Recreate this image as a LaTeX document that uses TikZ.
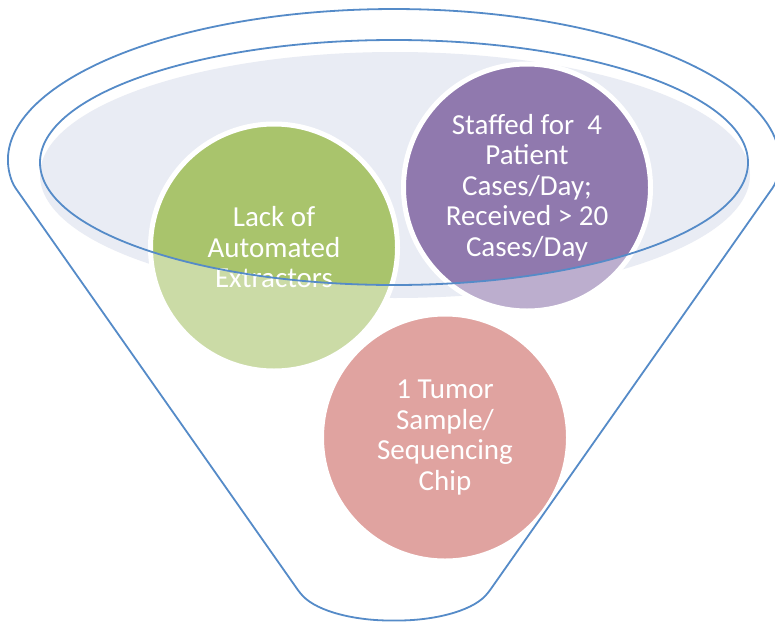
\documentclass[tikz,border=0pt]{standalone}
\usepackage{fontspec}
\setmainfont{Carlito}
\definecolor{rimblue}{HTML}{558BC8}
\definecolor{bowlfill}{HTML}{E9ECF4}
\definecolor{greenc}{HTML}{A9C46C}
\definecolor{purplec}{HTML}{9079AE}
\definecolor{pinkc}{HTML}{E0A3A0}
\tikzset{
  ball/.style={circle, draw=white, line width=5pt, minimum size=247pt, inner sep=0pt,
    text=white, align=center, font=\fontsize{29}{30.5}\selectfont},
  rim/.style={draw=rimblue, line width=1.8pt},
  glass/.style={white, opacity=0.4, even odd rule}
}
\begin{document}
\begin{tikzpicture}[x=1pt, y=-1pt]
  \useasboundingbox (0,0) rectangle (775,623);
  \fill[white] (0,0) rectangle (775,623);

  % shaded inside of the funnel mouth
  \fill[bowlfill] (395,175) ellipse [x radius=355, y radius=123];

  % the three items
  \node[ball, fill=greenc] (lack) at (274,247.5) {Lack of\\Automated\\Extractors};
  \node[ball, fill=purplec] (staff) at (527,187.5) {Staffed for\ \ 4\\Patient\\Cases/Day;\\Received > 20\\Cases/Day};
  \node[ball, fill=pinkc] (chip) at (445,437.5) {1 Tumor\\Sample/\\Sequencing\\Chip};

  % parts of the items lying below the rim are seen through the funnel wall
  \foreach \n in {lack, staff}{
    \begin{scope}
      \clip (\n.center) circle [radius=123.5pt];
      \fill[glass] (0,0) rectangle (775,623)
        (394,162.5) ellipse [x radius=354, y radius=122.5];
    \end{scope}
  }

  % inner rim of the funnel
  \draw[rim] (394,162.5) ellipse [x radius=354, y radius=122.5];

  % outer outline: back edge of the mouth, sloping walls and the spout
  \coordinate (lefttop) at (13.4,185);
  \coordinate (rightbot) at (488,593);
  \coordinate (spout) at (394,620.5);
  \coordinate (leftbot) at (300,593);
  \draw[rim, rounded corners=4pt] (lefttop)
    arc [start angle=171.36, end angle=368.64, x radius=385, y radius=153]
    -- (rightbot)
    .. controls (470,612) and (432,620.5) .. (spout)
    .. controls (356,620.5) and (318,612) .. (leftbot)
    -- cycle;
\end{tikzpicture}
\end{document}
